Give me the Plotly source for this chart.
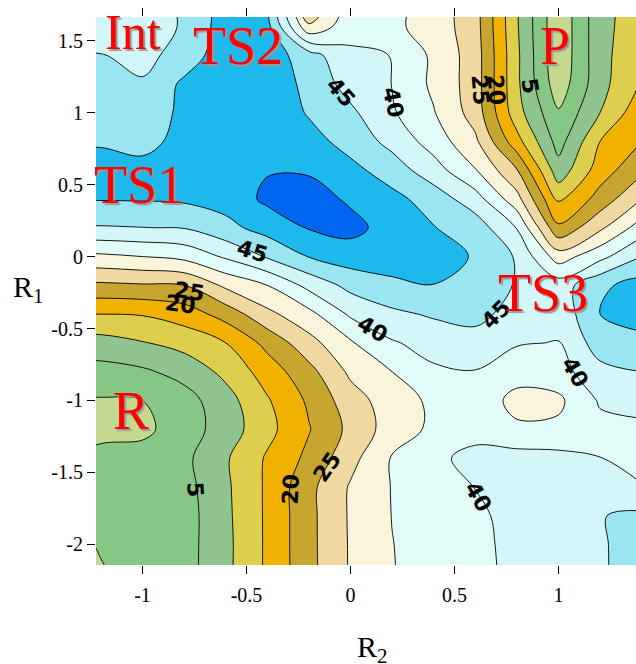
import plotly.graph_objects as go

# ---------------- data ----------------
r2 = [-1.4, -1.2, -1.0, -0.8, -0.6, -0.4, -0.2, 0.0, 0.2, 0.4, 0.6, 0.8, 1.0, 1.2, 1.4]
r1 = [-2.2, -2.0, -1.8, -1.6, -1.4, -1.2, -1.0, -0.8, -0.6, -0.4, -0.2,
      0.0, 0.2, 0.4, 0.6, 0.8, 1.0, 1.2, 1.4, 1.6, 1.8]

# energy grid, one row per R1 value (bottom to top), columns follow r2
energy = [
    [-2.0, -0.3, 1.3, 3.0, 8.8, 15.8, 23.5, 30.5, 34.8, 37.0, 39.0, 40.9, 42.7, 44.6, 46.5],   # -2.2
    [-1.5, 0.3, 1.5, 3.0, 8.7, 15.8, 23.6, 30.5, 34.9, 37.0, 39.1, 41.0, 42.8, 44.7, 46.2],    # -2.0
    [-0.5, 1.0, 2.2, 2.8, 8.9, 15.8, 23.6, 30.6, 35.1, 37.2, 39.3, 41.2, 43.0, 44.8, 46.0],    # -1.8
    [-0.5, 1.0, 2.2, 3.2, 9.1, 15.8, 23.6, 30.5, 35.2, 37.7, 40.1, 41.3, 42.2, 42.5, 40.1],    # -1.6
    [-0.5, 1.5, 2.0, 3.8, 9.4, 15.6, 21.2, 28.3, 35.4, 38.5, 42.0, 42.0, 41.5, 40.05, 39.3],   # -1.4
    [-1.5, -1.5, -1.2, 2.6, 7.3, 13.5, 19.7, 26.3, 32.4, 36.0, 37.5, 35.8, 36.0, 38.5, 38.5],  # -1.2
    [-0.3, -0.4, 0.0, 3.0, 8.0, 14.5, 20.8, 27.8, 32.6, 36.0, 38.0, 33.5, 34.0, 40.6, 42.5],   # -1.0
    [3.0, 3.2, 4.2, 6.7, 11.3, 17.3, 23.4, 31.0, 35.0, 39.2, 39.8, 37.0, 38.0, 43.5, 45.0],    # -0.8
    [8.0, 8.0, 9.7, 11.8, 15.0, 21.5, 28.2, 34.4, 39.5, 41.9, 43.0, 40.4, 39.8, 47.5, 48.0],   # -0.6
    [15.0, 15.0, 15.3, 17.3, 22.0, 28.7, 33.5, 40.8, 44.0, 45.6, 46.5, 43.0, 41.5, 50.0, 53.0],  # -0.4
    [23.8, 24.0, 24.5, 25.0, 31.0, 35.0, 41.5, 46.5, 48.7, 49.9, 49.0, 44.5, 42.5, 49.0, 52.0],  # -0.2
    [33.5, 34.0, 35.0, 36.4, 40.7, 45.5, 50.2, 52.5, 53.0, 52.5, 49.5, 44.5, 32.5, 38.5, 45.0],  # 0.0
    [44.6, 44.6, 44.9, 45.2, 48.5, 52.0, 55.3, 56.5, 53.0, 50.2, 47.7, 39.8, 21.0, 29.0, 37.5],  # 0.2
    [50.3, 50.3, 50.4, 50.8, 52.0, 56.0, 57.0, 54.3, 51.5, 47.7, 42.2, 31.8, 14.0, 22.0, 30.0],  # 0.4
    [51.5, 51.5, 52.0, 53.5, 54.5, 54.7, 54.5, 51.5, 47.5, 42.2, 35.3, 25.3, 7.0, 17.5, 24.0],   # 0.6
    [49.6, 49.6, 48.0, 52.0, 54.0, 54.5, 52.0, 48.0, 43.5, 37.8, 31.0, 16.8, 3.0, 15.0, 20.0],   # 0.8
    [47.5, 47.5, 46.0, 51.5, 53.5, 54.0, 49.5, 46.0, 40.6, 35.3, 27.8, 12.0, 0.5, 10.0, 18.5],   # 1.0
    [47.5, 47.5, 45.5, 51.0, 53.5, 53.5, 48.5, 43.0, 39.9, 34.0, 27.5, 11.0, -3.0, 8.3, 15.5],   # 1.2
    [45.0, 45.2, 43.5, 47.0, 53.0, 53.0, 47.0, 41.0, 39.9, 34.0, 27.5, 11.0, -4.0, 8.4, 14.0],   # 1.4
    [42.0, 42.0, 42.5, 45.5, 52.5, 51.5, 31.0, 38.0, 36.0, 33.0, 27.0, 10.5, -4.0, 8.4, 13.0],   # 1.6
    [42.0, 42.0, 42.5, 46.0, 52.0, 51.0, 20.0, 37.0, 37.0, 33.0, 27.0, 10.5, -4.0, 8.4, 12.5],   # 1.8
]

level_start, level_end, level_step = 0, 55, 5
band_colors = ["#C2D98F", "#85C783", "#90C48E", "#DDCF4C", "#F0B100", "#C7A62F",
               "#EFD9A0", "#FAF4DA", "#E1FBF9", "#D3F7F9", "#99E6F2", "#1DB8EC", "#0066F2"]

x_ticks = [-1, -0.5, 0, 0.5, 1]
x_ticktext = ["-1", "-0.5", "0", "0.5", "1"]
y_ticks = [-2, -1.5, -1, -0.5, 0, 0.5, 1, 1.5]
y_ticktext = ["-2", "-1.5", "-1", "-0.5", "0", "0.5", "1", "1.5"]

# contour level labels
clabel_text = ["45", "40", "45", "40", "40", "25", "20", "5", "25", "20", "45", "40", "25", "20", "5"]
clabel_r2 = [-0.469, 0.108, 0.700, 1.079, 0.613, -0.110, -0.286, -0.748, -0.776, -0.815, -0.046, 0.209, 0.623, 0.700, 0.863]
clabel_r1 = [0.033, -0.509, -0.405, -0.808, -1.668, -1.461, -1.620, -1.620, -0.245, -0.335, 1.137, 1.067, 1.160, 1.160, 1.190]
clabel_angle = [17, 30, -45, 60, 60, -55, -87, 87, 8, 8, 48, 78, 85, 85, 80]

# state labels
state_text = ["Int", "TS2", "TS1", "R", "TS3", "P"]
state_r2 = [-1.046, -0.541, -1.017, -1.055, 0.925, 0.983]
state_r1 = [1.560, 1.463, 0.498, -1.071, -0.252, 1.463]
state_size = [50, 54, 54, 54, 54, 54]

# ---------------- figure ----------------
n_bands = len(band_colors)
colorscale = [[i / (n_bands - 1), c] for i, c in enumerate(band_colors)]

fig = go.Figure()
fig.add_trace(go.Contour(
    x=r2, y=r1, z=energy,
    autocontour=False,
    contours=dict(start=level_start, end=level_end, size=level_step,
                  coloring="fill", showlines=True),
    colorscale=colorscale,
    line=dict(color="black", width=0.9, smoothing=1.0),
    showscale=False, hoverinfo="skip",
))

annotations = []
for t, x, y, a in zip(clabel_text, clabel_r2, clabel_r1, clabel_angle):
    annotations.append(dict(x=x, y=y, xref="x", yref="y", text=t, showarrow=False,
                            textangle=a,
                            font=dict(family="DejaVu Sans", size=22, color="black", weight="bold")))
for t, x, y, s in zip(state_text, state_r2, state_r1, state_size):
    annotations.append(dict(x=x, y=y, xref="x", yref="y", text=t, showarrow=False,
                            font=dict(family="Liberation Serif", size=s, color="#FF0000",
                                      shadow="2px 2px 1px #9a9a9a")))
annotations.append(dict(x=(28 - 96) / 540, y=(565.3 - 289) / 548.3, xref="paper", yref="paper",
                        text="R<sub>1</sub>", showarrow=False, xanchor="center", yanchor="middle",
                        font=dict(family="Liberation Serif", size=30, color="black")))
annotations.append(dict(x=(372 - 96) / 540, y=(565.3 - 649) / 548.3, xref="paper", yref="paper",
                        text="R<sub>2</sub>", showarrow=False, xanchor="center", yanchor="middle",
                        font=dict(family="Liberation Serif", size=30, color="black")))

axis_font = dict(family="Liberation Serif", size=20, color="black")
fig.update_layout(
    width=636, height=664,
    margin=dict(l=96, r=0, t=17, b=99),
    paper_bgcolor="white", plot_bgcolor="white",
    annotations=annotations,
    xaxis=dict(range=[-1.2236, 1.3726], tickvals=x_ticks, ticktext=x_ticktext,
               ticks="outside", ticklen=8, tickcolor="black", mirror="ticks",
               showgrid=False, zeroline=False, showline=False, tickfont=axis_font,
               ticklabelstandoff=4),
    yaxis=dict(range=[-2.1431, 1.6646], tickvals=y_ticks, ticktext=y_ticktext,
               ticks="outside", ticklen=8, tickcolor="black",
               showgrid=False, zeroline=False, showline=False, tickfont=axis_font),
)

fig.write_html("out.html")
